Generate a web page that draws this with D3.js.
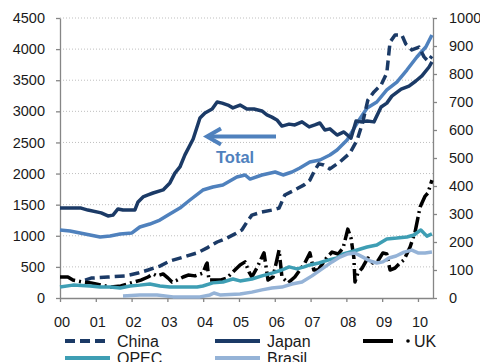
<!DOCTYPE html>
<html>
<head>
<meta charset="utf-8">
<script src="https://cdn.jsdelivr.net/npm/d3@7"></script>
<style>
  html, body { margin: 0; padding: 0; background: #ffffff; }
  svg { display: block; font-family: "Liberation Sans", Arial, sans-serif; }
</style>
</head>
<body>
<svg id="chart" width="480" height="362"></svg>
<script>
// Holdings of US Treasuries, USD bn. Total on the left axis, countries on the right.
const yearLabels = ["00", "01", "02", "03", "04", "05", "06", "07", "08", "09", "10"];
const leftTicks = [0, 500, 1000, 1500, 2000, 2500, 3000, 3500, 4000, 4500];
const rightTicks = [0, 100, 200, 300, 400, 500, 600, 700, 800, 900, 1000];

// [decimal year, value]
const total = [[2000.00,1093],[2000.28,1077],[2000.56,1045],[2000.84,1012],[2001.12,980],[2001.40,996],
  [2001.68,1028],[2002.01,1045],[2002.23,1141],[2002.51,1189],[2002.79,1253],[2003.02,1334],[2003.35,1446],
  [2003.63,1575],[2003.99,1735],[2004.27,1784],[2004.55,1816],[2004.94,1944],[2005.17,1977],[2005.31,1912],
  [2005.64,1977],[2006.01,2025],[2006.23,1977],[2006.48,2025],[2006.70,2089],[2006.98,2186],[2007.26,2218],
  [2007.54,2298],[2007.74,2378],[2008.02,2539],[2008.30,2812],[2008.58,3053],[2008.85,3150],[2009.13,3343],
  [2009.41,3471],[2009.69,3664],[2009.97,3873],[2010.22,4034],[2010.39,4226]];

const china = [[2000.70,64],[2000.87,71],[2001.34,75],[2001.82,79],[2002.18,89],[2002.46,100],[2002.79,114],
  [2003.07,132],[2003.44,146],[2003.83,161],[2004.11,179],[2004.39,200],[2004.66,214],[2004.89,229],
  [2005.08,243],[2005.22,271],[2005.36,296],[2005.64,307],[2005.92,314],[2006.12,321],[2006.28,368],
  [2006.56,386],[2006.82,404],[2006.98,421],[2007.12,457],[2007.23,479],[2007.37,475],[2007.54,461],
  [2007.82,486],[2008.10,518],[2008.30,564],[2008.46,629],[2008.60,707],[2008.77,736],[2008.97,761],
  [2009.13,804],[2009.22,914],[2009.36,939],[2009.55,939],[2009.66,907],[2009.83,886],[2010.03,896],
  [2010.17,861],[2010.28,846],[2010.39,864]];

const japan = [[2000.00,321],[2000.59,321],[2000.78,314],[2001.15,304],[2001.34,293],[2001.48,296],
  [2001.62,318],[2001.76,314],[2002.09,314],[2002.18,343],[2002.32,361],[2002.46,368],[2002.60,375],
  [2002.88,386],[2003.07,411],[2003.21,446],[2003.35,468],[2003.49,511],[2003.72,568],[2003.91,643],
  [2004.05,661],[2004.25,675],[2004.39,700],[2004.53,696],[2004.69,689],[2004.83,679],[2005.03,689],
  [2005.22,675],[2005.42,675],[2005.64,668],[2005.78,654],[2005.92,646],[2006.06,636],[2006.20,614],
  [2006.40,621],[2006.56,618],[2006.76,629],[2006.96,611],[2007.12,618],[2007.26,625],[2007.40,600],
  [2007.54,604],[2007.74,582],[2007.93,593],[2008.13,571],[2008.27,632],[2008.41,629],[2008.58,632],
  [2008.77,629],[2008.97,682],[2009.13,696],[2009.27,721],[2009.53,746],[2009.75,757],[2009.94,775],
  [2010.11,793],[2010.31,825],[2010.39,843]];

const uk = [[2000.00,75],[2000.22,75],[2000.36,64],[2000.64,57],[2000.87,54],[2001.15,46],[2001.42,39],
  [2001.70,43],[2001.98,54],[2002.26,64],[2002.46,75],[2002.60,86],[2002.71,79],[2002.88,86],[2003.02,71],
  [2003.13,57],[2003.27,64],[2003.44,75],[2003.58,82],[2003.77,79],[2003.99,89],[2004.08,118],[2004.11,125],
  [2004.16,64],[2004.47,64],[2004.66,71],[2004.83,93],[2005.03,118],[2005.17,129],[2005.28,93],[2005.36,75],
  [2005.50,107],[2005.67,154],[2005.70,161],[2005.81,64],[2005.95,75],[2006.12,171],[2006.20,75],
  [2006.37,54],[2006.56,75],[2006.70,100],[2006.84,125],[2006.98,161],[2007.09,100],[2007.21,100],
  [2007.35,125],[2007.46,146],[2007.60,164],[2007.77,157],[2007.91,179],[2008.04,246],[2008.13,214],
  [2008.21,143],[2008.24,57],[2008.32,89],[2008.44,107],[2008.60,143],[2008.74,125],[2008.88,132],
  [2009.02,161],[2009.13,157],[2009.22,100],[2009.36,107],[2009.50,125],[2009.61,136],[2009.78,182],
  [2009.92,236],[2010.06,325],[2010.20,364],[2010.28,375],[2010.39,421]];

const opec = [[2000.00,39],[2000.36,46],[2000.84,43],[2001.12,39],[2001.40,39],[2001.68,36],[2001.96,43],
  [2002.23,46],[2002.51,50],[2002.79,43],[2003.07,39],[2003.44,39],[2003.83,39],[2003.99,43],[2004.27,54],
  [2004.55,57],[2004.83,68],[2005.03,61],[2005.36,68],[2005.64,79],[2005.92,89],[2006.20,100],[2006.40,111],
  [2006.62,104],[2006.82,111],[2006.98,118],[2007.23,125],[2007.51,136],[2007.74,143],[2007.91,157],
  [2008.21,168],[2008.58,182],[2008.85,189],[2009.13,211],[2009.41,214],[2009.69,218],[2009.89,225],
  [2010.08,243],[2010.25,221],[2010.39,229]];

const brasil = [[2001.76,7],[2002.23,11],[2002.71,11],[2003.16,4],[2003.55,4],[2003.91,4],[2004.19,11],
  [2004.30,18],[2004.47,11],[2005.03,14],[2005.36,21],[2005.64,29],[2005.92,36],[2006.20,39],[2006.48,50],
  [2006.76,57],[2007.04,79],[2007.32,104],[2007.60,129],[2007.82,146],[2008.02,157],[2008.24,161],
  [2008.46,146],[2008.66,132],[2008.85,125],[2009.02,129],[2009.19,143],[2009.39,150],[2009.61,164],
  [2009.83,171],[2010.00,161],[2010.20,161],[2010.39,164]];

const navy = "#1B3A66", mid = "#4F81BD", teal = "#3E9EB4", light = "#95B3D7";

// Draw order: primary-axis series first, then the right-axis series.
const series = [
  { name: "Total",  data: total,  axis: "left",  color: mid,    dash: null },
  { name: "China",  data: china,  axis: "right", color: navy,   dash: "10,5" },
  { name: "Japan",  data: japan,  axis: "right", color: navy,   dash: null },
  { name: "UK",     data: uk,     axis: "right", color: "#000", dash: "16,4,2,4" },
  { name: "OPEC",   data: opec,   axis: "right", color: teal,   dash: null },
  { name: "Brasil", data: brasil, axis: "right", color: light,  dash: null }
];

const svg = d3.select("#chart");
const plotLeft = 60, plotRight = 433, plotTop = 18, plotBottom = 298;

const x = d3.scaleLinear().domain([2000, 2010.42]).range([plotLeft, plotRight]);
const yL = d3.scaleLinear().domain([0, 4500]).range([plotBottom, plotTop]);
const yR = d3.scaleLinear().domain([0, 1000]).range([plotBottom, plotTop]);

// dotted gridlines on the left-axis steps
svg.append("g").selectAll("line")
  .data(leftTicks.filter(d => d > 0))
  .join("line")
  .attr("x1", plotLeft).attr("x2", plotRight)
  .attr("y1", d => yL(d)).attr("y2", d => yL(d))
  .attr("stroke", "#BFBFBF").attr("stroke-width", 1)
  .attr("stroke-dasharray", "1,2");

const axisColor = "#868686";
function styleAxis(g, size) {
  g.selectAll("path.domain").attr("stroke", axisColor).attr("stroke-width", 1.3);
  g.selectAll(".tick line").attr("stroke", axisColor).attr("stroke-width", 1.3);
  g.selectAll(".tick text").attr("fill", "#1a1a1a").style("font-size", size)
    .style("font-family", "'Liberation Sans', Arial, sans-serif");
}

const plain = d3.format("d");

const gL = svg.append("g").attr("transform", `translate(${plotLeft},0)`)
  .call(d3.axisLeft(yL).tickValues(leftTicks).tickFormat(plain)
    .tickSize(4).tickSizeOuter(0).tickPadding(11));
styleAxis(gL, "14.5px");

const gR = svg.append("g").attr("transform", `translate(${plotRight},0)`)
  .call(d3.axisRight(yR).tickValues(rightTicks).tickFormat(plain)
    .tickSize(4).tickSizeOuter(0).tickPadding(12));
styleAxis(gR, "14.5px");

const gB = svg.append("g").attr("transform", `translate(0,${plotBottom})`)
  .call(d3.axisBottom(x).tickValues(d3.range(2000, 2011)).tickFormat((d, i) => yearLabels[i])
    .tickSize(4).tickSizeOuter(0).tickPadding(15));
styleAxis(gB, "14.5px");
gB.selectAll(".tick text").attr("dx", "1.5");

// series lines
const plot = svg.append("g");
series.forEach(s => {
  const yS = s.axis === "left" ? yL : yR;
  const line = d3.line().x(d => x(d[0])).y(d => yS(d[1]));
  plot.append("path")
    .datum(s.data)
    .attr("d", line)
    .attr("fill", "none")
    .attr("stroke", s.color)
    .attr("stroke-width", 3.5)
    .attr("stroke-linejoin", "round")
    .attr("stroke-dasharray", s.dash);
});

// arrow pointing the Total line to the left axis
const arrow = svg.append("g").attr("stroke", mid).attr("stroke-width", 4).attr("fill", "none");
arrow.append("line").attr("x1", 276).attr("x2", 208).attr("y1", 136.5).attr("y2", 136.5);
arrow.append("path").attr("d", "M221,128.5 L207,136.5 L221,144.5").attr("stroke-linejoin", "miter");
svg.append("text").attr("x", 216).attr("y", 163).text("Total")
  .attr("fill", mid).style("font-size", "16.5px").style("font-weight", "bold");

// legend
const legendItems = [
  { name: "China",  col: 0, row: 0 },
  { name: "Japan",  col: 1, row: 0 },
  { name: "UK",     col: 2, row: 0 },
  { name: "OPEC",   col: 0, row: 1 },
  { name: "Brasil", col: 1, row: 1 }
];
const colX = [65, 215, 363], rowY = [341, 358];
const lg = svg.append("g");
legendItems.forEach(it => {
  const s = series.find(d => d.name === it.name);
  const x0 = colX[it.col], y0 = rowY[it.row];
  if (it.name === "UK") {
    lg.append("line").attr("x1", x0).attr("x2", x0 + 30).attr("y1", y0).attr("y2", y0)
      .attr("stroke", s.color).attr("stroke-width", 4);
    lg.append("circle").attr("cx", x0 + 45).attr("cy", y0).attr("r", 1.8).attr("fill", s.color);
    lg.append("text").attr("x", x0 + 51).attr("y", y0).attr("dy", "0.36em")
      .style("font-size", "16px").attr("fill", "#1a1a1a").text(it.name);
  } else {
    lg.append("line").attr("x1", x0).attr("x2", x0 + 45).attr("y1", y0).attr("y2", y0)
      .attr("stroke", s.color).attr("stroke-width", 4)
      .attr("stroke-dasharray", s.dash ? "10,5" : null);
    lg.append("text").attr("x", x0 + 52).attr("y", y0).attr("dy", "0.36em")
      .style("font-size", "16px").attr("fill", "#1a1a1a").text(it.name);
  }
});
</script>
</body>
</html>
